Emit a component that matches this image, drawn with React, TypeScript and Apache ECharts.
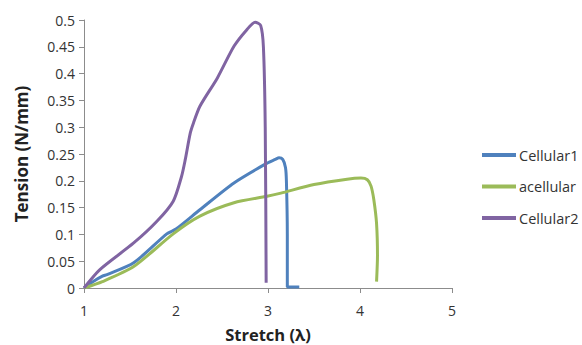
import React, { useEffect, useRef } from "react";
import * as echarts from "echarts";

const seriesNames = ["Cellular1", "acellular", "Cellular2"];

const cellular1X = [1, 1.1, 1.2, 1.25, 1.54, 1.9, 2.0, 2.26, 2.63, 2.99, 3.08, 3.12, 3.16, 3.19, 3.2, 3.21, 3.21, 3.34];
const cellular1Y = [0, 0.012, 0.022, 0.025, 0.047, 0.101, 0.11, 0.146, 0.196, 0.233, 0.24, 0.243, 0.24, 0.225, 0.2, 0.1, 0.002, 0.002];

const acellularX = [1, 1.2, 1.54, 1.97, 2.26, 2.63, 2.99, 3.14, 3.5, 3.86, 4.01, 4.08, 4.12, 4.15, 4.18, 4.19, 4.18];
const acellularY = [0, 0.012, 0.04, 0.101, 0.134, 0.159, 0.171, 0.177, 0.193, 0.203, 0.205, 0.202, 0.19, 0.165, 0.12, 0.06, 0.012];

const cellular2X = [1, 1.17, 1.54, 1.79, 1.97, 2.06, 2.1, 2.155, 2.19, 2.26, 2.45, 2.63, 2.77, 2.86, 2.92, 2.95, 2.97, 2.98];
const cellular2Y = [0, 0.034, 0.084, 0.124, 0.162, 0.208, 0.239, 0.289, 0.308, 0.339, 0.392, 0.451, 0.482, 0.496, 0.49, 0.45, 0.3, 0.01];

const colors = ["#4F81BD", "#9BBB59", "#8064A2"];

const zip = (xs: number[], ys: number[]) => xs.map((x, i) => [x, ys[i]]);

export default function App() {
  const ref = useRef<HTMLDivElement>(null);
  useEffect(() => {
    if (!ref.current) return;
    const chart = echarts.init(ref.current, undefined, { renderer: "svg" });
    const font = "Open Sans";
    const datasets = [
      zip(cellular1X, cellular1Y),
      zip(acellularX, acellularY),
      zip(cellular2X, cellular2Y),
    ];
    chart.setOption({
      animation: false,
      backgroundColor: "#ffffff",
      grid: { left: 84, right: 130, top: 20, bottom: 57, containLabel: false, outerBoundsMode: "none" },
      legend: {
        orient: "vertical",
        left: 477,
        top: 142,
        itemWidth: 34,
        itemHeight: 4,
        itemGap: 15.5,
        icon: "rect",
        data: seriesNames,
        textStyle: { fontFamily: font, fontSize: 14.5, color: "#333", lineHeight: 16, padding: [0, 0, 0, -2] },
      },
      xAxis: {
        type: "value",
        min: 1,
        max: 5,
        interval: 1,
        name: "Stretch (λ)",
        nameLocation: "middle",
        nameGap: 37,
        nameTextStyle: { fontFamily: font, fontWeight: "bold", fontSize: 16.5, color: "#222", lineHeight: 18 },
        axisLine: { lineStyle: { color: "#8c8c8c", width: 1 } },
        axisTick: { show: true, length: 5, lineStyle: { color: "#8c8c8c" } },
        axisLabel: { fontFamily: font, fontSize: 14, color: "#333", margin: 15 },
        splitLine: { show: false },
      },
      yAxis: {
        type: "value",
        min: 0,
        max: 0.5,
        interval: 0.05,
        name: "Tension (N/mm)",
        nameLocation: "middle",
        nameGap: 54,
        nameTextStyle: { fontFamily: font, fontWeight: "bold", fontSize: 17, color: "#222" },
        axisLine: { show: true, lineStyle: { color: "#8c8c8c", width: 1 } },
        axisTick: { show: true, length: 5, lineStyle: { color: "#8c8c8c" } },
        axisLabel: {
          fontFamily: font,
          fontSize: 14,
          color: "#333",
          margin: 9,
          formatter: (v: number) => String(parseFloat(v.toFixed(2))),
        },
        splitLine: { show: false },
      },
      series: seriesNames.map((name, i) => ({
        name,
        type: "line",
        data: datasets[i],
        showSymbol: false,
        smooth: 0.25,
        lineStyle: { width: 3, color: colors[i] },
        itemStyle: { color: colors[i] },
      })),
    });
    return () => chart.dispose();
  }, []);
  return <div ref={ref} style={{ width: 582, height: 345, position: "absolute", left: 0, top: 0 }} />;
}
